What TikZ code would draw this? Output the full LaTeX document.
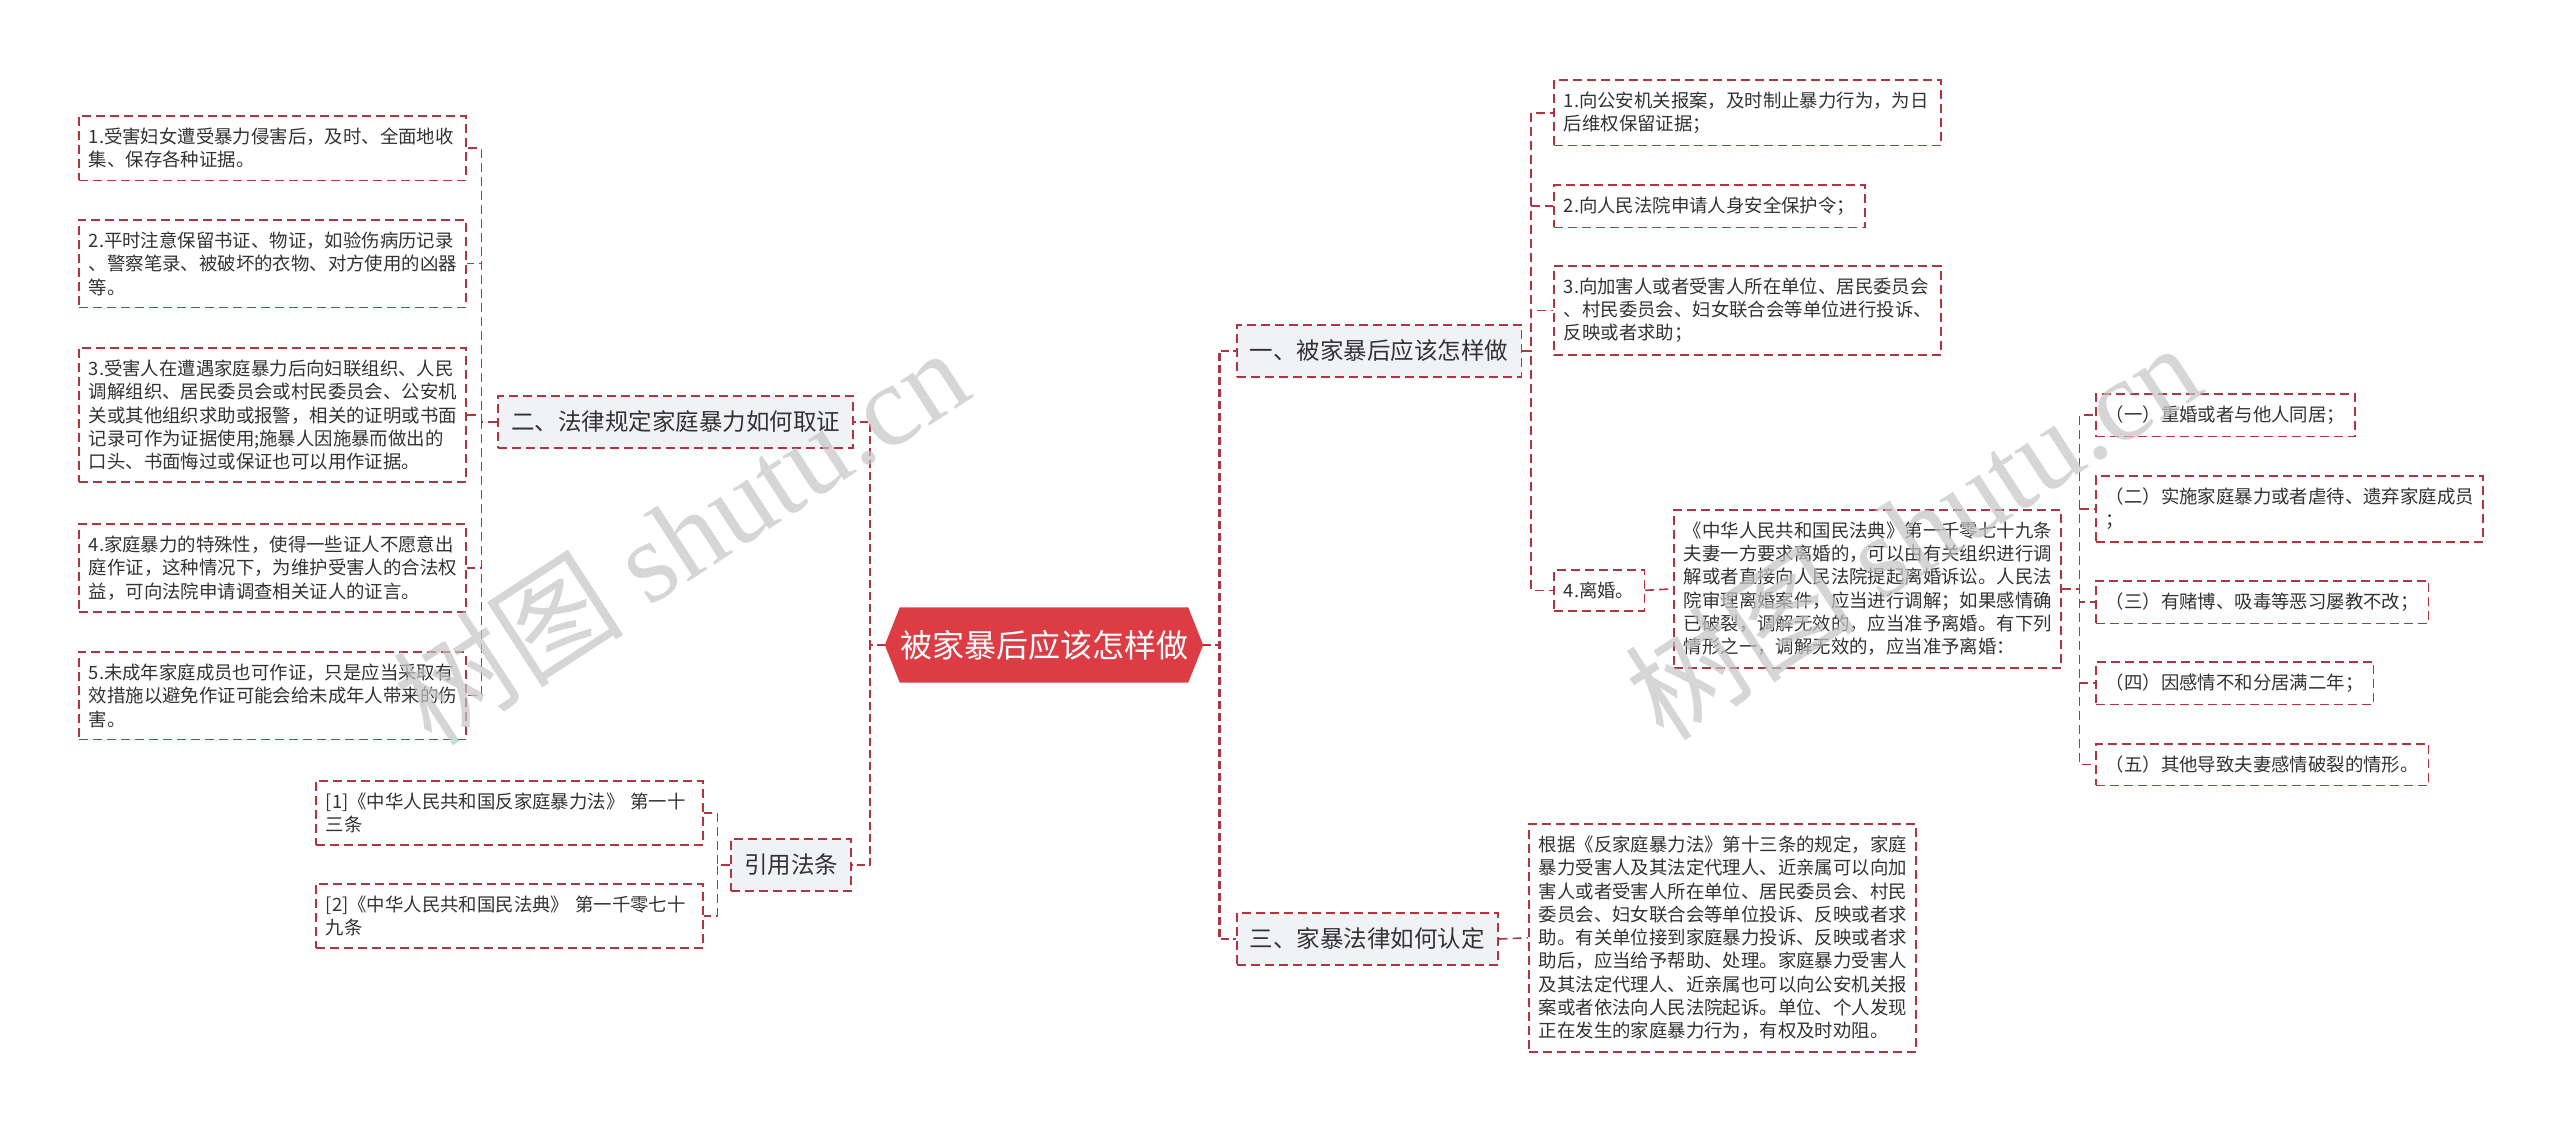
\documentclass[tikz,border=0pt]{standalone}
\usepackage{fontspec}
\setmainfont{Noto Sans CJK SC}
\newfontfamily\wmserif{Liberation Serif}
\usetikzlibrary{positioning,backgrounds}
\definecolor{linkred}{HTML}{B0353F}
\definecolor{rootred}{HTML}{DC3D45}
\definecolor{branchbg}{HTML}{F0F2F5}
\definecolor{txtgray}{HTML}{333333}
\definecolor{wmgray}{HTML}{C4C4C4}
\tikzset{
  link/.style={draw=linkred, line width=1.6pt, dash pattern=on 9pt off 5pt},
  trunk/.style={draw=linkred, line width=2.6pt, dash pattern=on 8pt off 4pt},
  leaf/.style={link, fill=white, text=txtgray, font=\fontsize{18.4}{23.3}\selectfont,
    align=left, inner xsep=10pt, inner ysep=12pt, anchor=north west},
  leafw/.style={leaf, text width=367pt},
  branch/.style={link, fill=branchbg, text=txtgray, font=\fontsize{23.5}{28}\selectfont,
    inner xsep=13pt, inner ysep=15pt},
  rootbox/.style={text=white, font=\fontsize{32}{38}\selectfont,
    minimum width=318pt, minimum height=75pt, inner sep=0pt},
  wm/.style={text=wmgray, text opacity=0.7, font=\fontsize{116}{124}\selectfont}
}
\begin{document}
\begin{tikzpicture}[x=1pt, y=-1pt]
  \useasboundingbox (0,0) rectangle (2560,1133);

  % Mitte
  \node[rootbox] (root) at (1044,645) {被家暴后应该怎样做};
  \begin{scope}[on background layer]
    \fill[rootred] (root.west) -- ([xshift=15pt]root.north west) -- ([xshift=-15pt]root.north east)
      -- (root.east) -- ([xshift=-15pt]root.south east) -- ([xshift=15pt]root.south west) -- cycle;
  \end{scope}

  % Hauptaeste
  \node[branch, anchor=east] (L1) at (854,422) {二、法律规定家庭暴力如何取证};
  \node[branch, anchor=east] (L2) at (852,865) {引用法条};
  \node[branch, anchor=west] (R1) at (1236,351) {一、被家暴后应该怎样做};
  \node[branch, anchor=west] (R3) at (1236,939) {三、家暴法律如何认定};

  % Links: Beweise
  \node[leafw] (l1) at (78,115) {1.受害妇女遭受暴力侵害后，及时、全面地收\\集、保存各种证据。};
  \node[leafw] (l2) at (78,219) {2.平时注意保留书证、物证，如验伤病历记录\\、警察笔录、被破坏的衣物、对方使用的凶器\\等。};
  \node[leafw] (l3) at (78,347) {3.受害人在遭遇家庭暴力后向妇联组织、人民\\调解组织、居民委员会或村民委员会、公安机\\关或其他组织求助或报警，相关的证明或书面\\记录可作为证据使用;施暴人因施暴而做出的\\口头、书面悔过或保证也可以用作证据。};
  \node[leafw] (l4) at (78,523) {4.家庭暴力的特殊性，使得一些证人不愿意出\\庭作证，这种情况下，为维护受害人的合法权\\益，可向法院申请调查相关证人的证言。};
  \node[leafw] (l5) at (78,651) {5.未成年家庭成员也可作证，只是应当采取有\\效措施以避免作证可能会给未成年人带来的伤\\害。};

  % Links: Gesetze
  \node[leafw] (ref1) at (315,780) {[1]《中华人民共和国反家庭暴力法》 第一十\\三条};
  \node[leafw] (ref2) at (315,883) {[2]《中华人民共和国民法典》 第一千零七十\\九条};

  % Rechts: Massnahmen
  \node[leafw] (r1) at (1553,79) {1.向公安机关报案，及时制止暴力行为，为日\\后维权保留证据；};
  \node[leaf] (r2) at (1553,184) {2.向人民法院申请人身安全保护令；};
  \node[leafw] (r3) at (1553,265) {3.向加害人或者受害人所在单位、居民委员会\\、村民委员会、妇女联合会等单位进行投诉、\\反映或者求助；};
  \node[leaf] (r4) at (1553,569) {4.离婚。};
  \node[leafw] (det) at (1673,509) {《中华人民共和国民法典》第一千零七十九条\\夫妻一方要求离婚的，可以由有关组织进行调\\解或者直接向人民法院提起离婚诉讼。人民法\\院审理离婚案件，应当进行调解；如果感情确\\已破裂，调解无效的，应当准予离婚。有下列\\情形之一，调解无效的，应当准予离婚：};
  \node[leaf] (s1) at (2095,393) {（一）重婚或者与他人同居；};
  \node[leafw] (s2) at (2095,475) {（二）实施家庭暴力或者虐待、遗弃家庭成员\\；};
  \node[leaf] (s3) at (2095,580) {（三）有赌博、吸毒等恶习屡教不改；};
  \node[leaf] (s4) at (2095,661) {（四）因感情不和分居满二年；};
  \node[leaf] (s5) at (2095,743) {（五）其他导致夫妻感情破裂的情形。};

  % Rechts: Definition
  \node[leafw] (d3) at (1528,823) {根据《反家庭暴力法》第十三条的规定，家庭\\暴力受害人及其法定代理人、近亲属可以向加\\害人或者受害人所在单位、居民委员会、村民\\委员会、妇女联合会等单位投诉、反映或者求\\助。有关单位接到家庭暴力投诉、反映或者求\\助后，应当给予帮助、处理。家庭暴力受害人\\及其法定代理人、近亲属也可以向公安机关报\\案或者依法向人民法院起诉。单位、个人发现\\正在发生的家庭暴力行为，有权及时劝阻。};

  % Verbindungen
  \foreach \b in {L1,L2} \draw[trunk] (root.west) -- ++(-15,0) |- (\b.east);
  \foreach \b in {R1,R3} \draw[trunk] (root.east) -- ++(16,0) |- (\b.west);
  \foreach \n in {l1,l2,l3,l4,l5} \draw[link] (L1.west) -- ++(-16,0) |- (\n.east);
  \foreach \n in {ref1,ref2} \draw[link] (L2.west) -- ++(-13,0) |- (\n.east);
  \foreach \n in {r1,r2,r3,r4} \draw[link] (R1.east) -- ++(9,0) |- (\n.west);
  \draw[link] (r4.east) -- (det.west);
  \foreach \n in {s1,s2,s3,s4,s5} \draw[link] (det.east) -- ++(18,0) |- (\n.west);
  \draw[link] (R3.east) -- (d3.west);

  % Wasserzeichen
  \node[wm, rotate=33] (wmL) at (680,535) {树图 {\wmserif shutu.cn}};
  \node[wm, rotate=33] (wmR) at (1912,530) {树图 {\wmserif shutu.cn}};
\end{tikzpicture}
\end{document}
